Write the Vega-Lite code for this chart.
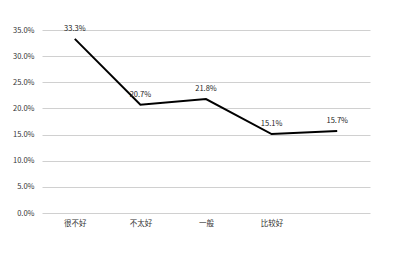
{
  "$schema": "https://vega.github.io/schema/vega-lite/v6.json",
  "width": 328,
  "height": 183,
  "autosize": {"type": "none"},
  "padding": {"left": 42, "top": 30, "right": 30, "bottom": 40},
  "background": "white",
  "config": {
    "view": {"stroke": null},
    "font": "Noto Sans CJK SC",
    "axis": {"labelFont": "Noto Sans CJK SC", "labelColor": "#333333", "labelFontSize": 7.5}
  },
  "data": {
    "values": [
      {"cat": "很不好", "v": 0.333, "lab": "33.3%"},
      {"cat": "不太好", "v": 0.207, "lab": "20.7%"},
      {"cat": "一般", "v": 0.218, "lab": "21.8%"},
      {"cat": "比较好", "v": 0.151, "lab": "15.1%"},
      {"cat": "15.7", "v": 0.157, "lab": "15.7%"}
    ]
  },
  "encoding": {
    "x": {
      "field": "cat",
      "type": "nominal",
      "sort": null,
      "scale": {"paddingInner": 0, "paddingOuter": 0.5},
      "axis": {
        "title": null,
        "labelAngle": 0,
        "domain": false,
        "ticks": false,
        "labelPadding": 6,
        "labelExpr": "datum.value == '15.7' ? '' : datum.value"
      }
    },
    "y": {
      "field": "v",
      "type": "quantitative",
      "scale": {"domain": [0, 0.35]},
      "axis": {
        "title": null,
        "format": ".1%",
        "values": [0, 0.05, 0.1, 0.15, 0.2, 0.25, 0.3, 0.35],
        "domain": false,
        "ticks": false,
        "labelPadding": 8,
        "gridColor": "#d0d0d0",
        "gridWidth": 1
      }
    }
  },
  "layer": [
    {"mark": {"type": "line", "color": "black", "strokeWidth": 2}},
    {
      "mark": {"type": "text", "dy": -10, "fontSize": 7.5, "color": "#222222"},
      "encoding": {"text": {"field": "lab"}}
    }
  ]
}
